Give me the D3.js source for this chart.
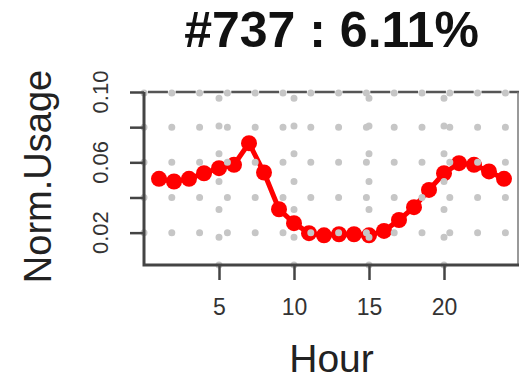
<!DOCTYPE html>
<html>
<head>
<meta charset="utf-8">
<script src="https://cdn.jsdelivr.net/npm/d3@7"></script>
<style>
  body { margin: 0; background: #fff; }
  svg { display: block; font-family: "Liberation Sans", Arial, sans-serif; }
</style>
</head>
<body>
<script>
const hours = d3.range(1, 25);
const usage = [0.0506, 0.0491, 0.0506, 0.0538, 0.0567, 0.0586, 0.0709, 0.0542,
               0.0333, 0.0254, 0.0197, 0.0185, 0.0191, 0.0191, 0.0185, 0.0210,
               0.0272, 0.0345, 0.0443, 0.0538, 0.0595, 0.0586, 0.0548, 0.0506];
const xTicks = [5, 10, 15, 20];
const yTicks = [0.02, 0.04, 0.06, 0.08, 0.10];
const yLabels = [0.02, 0.06, 0.10];
const title = '#737 : 6.11%';

const width = 522, height = 380;
const plotL = 144, plotR = 519, plotT = 92, plotB = 265;

const svg = d3.select('body').append('svg')
  .attr('width', width)
  .attr('height', height);

const x = d3.scaleLinear().domain([0, 25]).range([plotL, plotR]);
const y = d3.scaleLinear().domain([0.0016, 0.10]).range([plotB, plotT]);

// data line + points
const pts = hours.map((h, i) => [h, usage[i]]);
svg.append('path')
  .datum(pts)
  .attr('fill', 'none')
  .attr('stroke', '#ff0000')
  .attr('stroke-width', 5)
  .attr('stroke-linejoin', 'round')
  .attr('d', d3.line().x(d => x(d[0])).y(d => y(d[1])));

svg.append('g').selectAll('circle')
  .data(pts)
  .enter().append('circle')
  .attr('cx', d => x(d[0]))
  .attr('cy', d => y(d[1]))
  .attr('r', 8)
  .attr('fill', '#ff0000');

// dotted grid, drawn over the points like R's grid()
const grid = svg.append('g')
  .attr('stroke', '#c6c6c6')
  .attr('stroke-width', 7)
  .attr('stroke-linecap', 'round')
  .attr('stroke-dasharray', '0 27.8');

grid.selectAll('line.h')
  .data(yTicks.slice(0, 4))
  .enter().append('line')
  .attr('x1', plotL).attr('x2', plotR)
  .attr('y1', d => y(d)).attr('y2', d => y(d));

grid.selectAll('line.v')
  .data(xTicks)
  .enter().append('line')
  .attr('x1', d => x(d)).attr('x2', d => x(d))
  .attr('y1', plotB).attr('y2', plotT);

grid.append('line')
  .attr('x1', plotL).attr('x2', plotR)
  .attr('y1', plotT + 1).attr('y2', plotT + 1);

// frame
svg.append('line')
  .attr('x1', plotL).attr('x2', plotR)
  .attr('y1', plotT).attr('y2', plotT)
  .attr('stroke', '#555')
  .attr('stroke-width', 2.5)
  .attr('stroke-dasharray', '20 7.8')
  .attr('stroke-dashoffset', 23.9);

svg.append('line')
  .attr('x1', plotR - 1).attr('x2', plotR - 1)
  .attr('y1', plotT).attr('y2', plotB)
  .attr('stroke', '#777')
  .attr('stroke-width', 1.5);

svg.append('path')
  .attr('d', `M${plotL},${plotT}V${plotB}H${plotR}`)
  .attr('fill', 'none')
  .attr('stroke', '#444')
  .attr('stroke-width', 3);

// axes
const xAxis = svg.append('g')
  .attr('transform', `translate(0,${plotB})`)
  .call(d3.axisBottom(x).tickValues(xTicks).tickSize(15).tickPadding(19).tickFormat(d3.format('d')));
xAxis.select('.domain').remove();
xAxis.selectAll('line').attr('stroke', '#444').attr('stroke-width', 2.5);
xAxis.selectAll('text').attr('font-size', 23).attr('fill', '#333');

const yAxis = svg.append('g')
  .attr('transform', `translate(${plotL},0)`)
  .call(d3.axisLeft(y).tickValues(yTicks).tickSize(14).tickFormat(''));
yAxis.select('.domain').remove();
yAxis.selectAll('line').attr('stroke', '#444').attr('stroke-width', 2.5);

svg.append('g').selectAll('text')
  .data(yLabels)
  .enter().append('text')
  .attr('transform', d => `translate(108,${y(d)}) rotate(-90)`)
  .attr('text-anchor', 'middle')
  .attr('font-size', 22)
  .attr('fill', '#333')
  .text(d => d3.format('.2f')(d));

// titles
svg.append('text')
  .attr('x', (plotL + plotR) / 2)
  .attr('y', 47)
  .attr('text-anchor', 'middle')
  .attr('font-size', 50)
  .attr('font-weight', 'bold')
  .attr('fill', '#111')
  .text(title);

svg.append('text')
  .attr('x', (plotL + plotR) / 2)
  .attr('y', 372)
  .attr('text-anchor', 'middle')
  .attr('font-size', 39)
  .attr('fill', '#222')
  .text('Hour');

svg.append('text')
  .attr('transform', `translate(51,${(plotT + plotB) / 2 - 2}) rotate(-90)`)
  .attr('text-anchor', 'middle')
  .attr('font-size', 38)
  .attr('fill', '#222')
  .text('Norm.Usage');
</script>
</body>
</html>
